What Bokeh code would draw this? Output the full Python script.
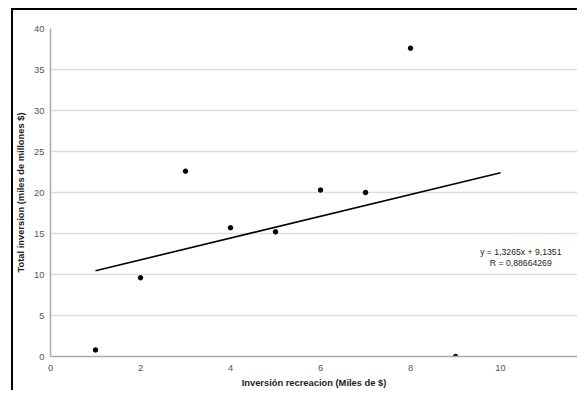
from bokeh.plotting import figure
from bokeh.embed import file_html
from bokeh.resources import INLINE
from bokeh.models import Range1d, FixedTicker, Label
import numpy as np

x_vals = [1, 2, 3, 4, 5, 6, 7, 8, 9]
y_vals = [0.8, 9.6, 22.6, 15.7, 15.2, 20.3, 20.0, 37.6, 0.0]
slope = 1.3265
intercept = 9.1351
trend_x = [1, 10]
eq_text = "y = 1,3265x + 9,1351"
r_text = "R = 0,88664269"
x_ticks = [0, 2, 4, 6, 8, 10, 12]
y_ticks = [0, 5, 10, 15, 20, 25, 30, 35, 40]

FONT = "Liberation Sans"

p = figure(width=563, height=378, output_backend="svg", toolbar_location=None,
           x_range=Range1d(0, 11.71), y_range=Range1d(0, 40),
           min_border_left=36, min_border_top=18, min_border_bottom=32, min_border_right=0)
p.frame_width = 527
p.frame_height = 328
p.styles = {"margin-left": "11px", "margin-top": "8px",
            "border-left": "2px solid black", "border-top": "2px solid black"}
p.outline_line_color = None
p.background_fill_color = "white"

p.xgrid.grid_line_color = None
p.ygrid.grid_line_color = "#dddddd"
p.ygrid.grid_line_width = 1.5
p.xaxis.ticker = FixedTicker(ticks=x_ticks)
p.yaxis.ticker = FixedTicker(ticks=y_ticks)
for ax in (p.xaxis[0], p.yaxis[0]):
    ax.major_tick_line_color = None
    ax.minor_tick_line_color = None
    ax.major_tick_out = 0
    ax.major_tick_in = 0
    ax.minor_tick_out = 0
    ax.minor_tick_in = 0
    ax.axis_line_color = "#aaaaaa"
    ax.axis_line_width = 1.5
    ax.major_label_text_font = FONT
    ax.major_label_text_font_size = "7pt"
    ax.major_label_text_color = "#555555"
    ax.axis_label_text_font = FONT
    ax.axis_label_text_font_size = "7pt"
    ax.axis_label_text_font_style = "bold"
    ax.axis_label_text_color = "#222222"
p.xaxis.axis_label = "Inversión recreacion (Miles de $)"
p.yaxis.axis_label = "Total inversion (miles de millones $)"
p.xaxis.major_label_standoff = 8
p.yaxis.major_label_standoff = 6
p.xaxis.axis_label_standoff = 4
p.yaxis.axis_label_standoff = 5

tx = np.array(trend_x, dtype=float)
p.line(tx, slope * tx + intercept, line_color="black", line_width=1.6)
p.scatter(x_vals, y_vals, size=4.5, marker="circle", color="black")

p.add_layout(Label(x=10.45, y=12.7, text=eq_text, text_font=FONT, text_font_size="6.5pt",
                   text_color="#222222", text_align="center", text_baseline="middle"))
p.add_layout(Label(x=10.45, y=11.4, text=r_text, text_font=FONT, text_font_size="6.5pt",
                   text_color="#222222", text_align="center", text_baseline="middle"))

open("out.html", "w").write(file_html(p, INLINE))
